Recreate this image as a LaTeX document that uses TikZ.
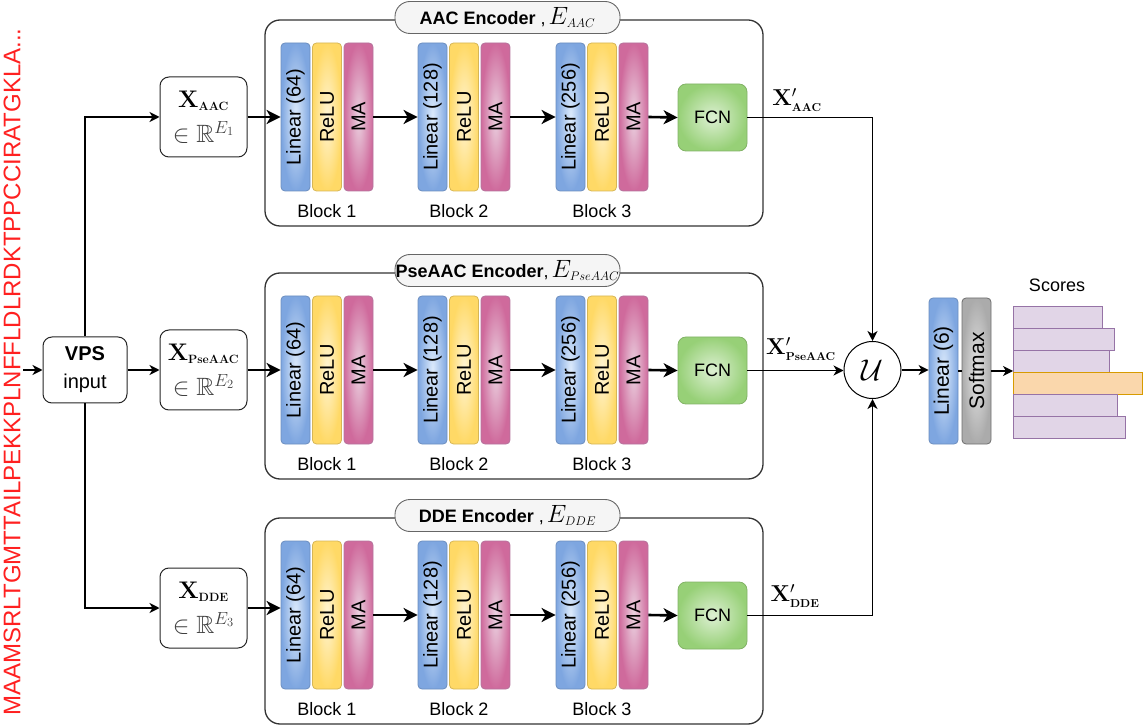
\RequirePackage{fix-cm}
\documentclass[tikz,border=0pt]{standalone}
\usepackage{amssymb}
\usepackage[no-math]{fontspec}
\setmainfont{Liberation Sans}
\usetikzlibrary{arrows.meta}
\definecolor{linO}{HTML}{7EA6E0}\definecolor{linI}{HTML}{DDEBFC}\definecolor{linB}{HTML}{6C8EBF}
\definecolor{relO}{HTML}{FFD966}\definecolor{relI}{HTML}{FFF5D6}\definecolor{relB}{HTML}{D6B656}
\definecolor{maO}{HTML}{CF6A9C}\definecolor{maI}{HTML}{EBD3E1}\definecolor{maB}{HTML}{B5739D}
\definecolor{fcnO}{HTML}{97D077}\definecolor{fcnI}{HTML}{DDF0D3}\definecolor{fcnB}{HTML}{82B366}
\definecolor{smO}{HTML}{ABABAB}\definecolor{smI}{HTML}{E4E4E4}\definecolor{smB}{HTML}{6E6E6E}
\definecolor{scF}{HTML}{E1D5E7}\definecolor{scB}{HTML}{9673A6}
\definecolor{orF}{HTML}{FAD7AC}\definecolor{orB}{HTML}{D79B00}
\definecolor{seqred}{HTML}{FF2020}
\definecolor{pillF}{HTML}{F5F5F5}\definecolor{pillB}{HTML}{666666}
\newcommand{\encmath}[1]{{\fontsize{25}{24}\selectfont$#1$}}
\tikzset{
  bar/.style={rotate=90, minimum width=148pt, minimum height=29pt, inner sep=0pt,
    rounded corners=4pt, line width=0.8pt, font=\fontsize{20}{22}\selectfont},
  lin/.style={bar, draw=linB, inner color=linI, outer color=linO},
  relu/.style={bar, draw=relB, inner color=relI, outer color=relO},
  ma/.style={bar, draw=maB, inner color=maI, outer color=maO},
  smx/.style={bar, draw=smB, inner color=smI, outer color=smO},
  fcnbox/.style={minimum width=69pt, minimum height=67pt, rounded corners=8pt, line width=0.8pt,
    draw=fcnB, inner color=fcnI, outer color=fcnO, font=\fontsize{18}{20}\selectfont},
  encbox/.style={draw=black!80, line width=1.3pt, rounded corners=15pt,
    minimum width=498pt, minimum height=206pt, inner sep=0pt},
  pill/.style={draw=pillB, fill=pillF, rounded corners=15pt, minimum width=225pt,
    minimum height=32pt, inner sep=0pt, line width=0.9pt, font=\fontsize{18}{20}\selectfont},
  blk/.style={font=\fontsize{18}{20}\selectfont},
  xbox/.style={draw=black!85, fill=white, rounded corners=9pt, minimum width=87pt, minimum height=80pt,
    inner sep=0pt, line width=1pt, align=center, font=\fontsize{24}{35}\selectfont},
  xlab/.style={font=\fontsize{23}{22}\selectfont, inner sep=0pt},
  sbar/.style={anchor=north west, minimum height=22pt, inner sep=0pt, line width=0.9pt, draw=scB, fill=scF},
  thk/.style={line width=2.6pt, -{Stealth[length=14pt,width=14pt,inset=4pt]}},
  thn/.style={line width=1.5pt, -{Stealth[length=10pt,width=10pt,inset=3pt]}},
  ln/.style={line width=1.5pt},
}
\begin{document}
\begin{tikzpicture}[x=1pt,y=-1pt]
\useasboundingbox (0,0) rectangle (1144,727);
% sequence
\node[rotate=90, text=seqred, font=\fontsize{24}{26}\selectfont, inner sep=0pt] (seq) at (12,372)
  {MAAMSRLTGMTTAILPEKKPLNFFLDLRDKTPPCCIRATGKLA...};
\coordinate (in0) at (23,370);
% input node
\node[draw=black!85, fill=white, rounded corners=9pt, minimum width=84pt, minimum height=66pt,
  inner sep=0pt, line width=1pt, align=center, font=\fontsize{20}{28}\selectfont] (vps) at (85,370)
  {\textbf{VPS}\\input};
\draw[thn] (in0) -- (vps.west);
% encoders
\foreach \rw/\T/\xy/\ttl/\sb/\ei/\lx/\ly in {
  A/20/117/{\textbf{AAC Encoder} ,\,\encmath{E_{\scriptscriptstyle AAC}}}/AAC/1/797/100,
  P/273/370/{\textbf{PseAAC Encoder},\,\encmath{E_{\scriptscriptstyle PseAAC}}}/PseAAC/2/801/349,
  D/518/608/{\textbf{DDE Encoder} ,\,\encmath{E_{\scriptscriptstyle DDE}}}/DDE/3/795/596}
{
  \node[encbox] (enc\rw) at (514,\T+103) {};
  \node[pill] (ttl\rw) at (507.5,\T-2.5) {\ttl};
  \node[lin]  (l\rw1) at (295.5,\T+97) {Linear (64)};
  \node[relu] (r\rw1) at (327,\T+97) {ReLU};
  \node[ma]   (m\rw1) at (358.5,\T+97) {MA};
  \node[lin]  (l\rw2) at (432.5,\T+97) {Linear (128)};
  \node[relu] (r\rw2) at (464,\T+97) {ReLU};
  \node[ma]   (m\rw2) at (495.5,\T+97) {MA};
  \node[lin]  (l\rw3) at (570.5,\T+97) {Linear (256)};
  \node[relu] (r\rw3) at (602,\T+97) {ReLU};
  \node[ma]   (m\rw3) at (633.5,\T+97) {MA};
  \node[blk] (b\rw1) at (327,\T+191) {Block 1};
  \node[blk] (b\rw2) at (459,\T+191) {Block 2};
  \node[blk] (b\rw3) at (602,\T+191) {Block 3};
  \node[fcnbox] (f\rw) at (712.5,\T+97.5) {FCN};
  \node[xbox] (x\rw) at (203.5,\xy)
    {$\mathbf{X}_{\scriptscriptstyle\mathbf{\sb}}$\\{\fontsize{25}{35}\selectfont\color{black!75}$\in\mathbb{R}^{E_\ei}$}};
  \node[xlab] (xp\rw) at (\lx,\ly) {$\mathbf{X}'_{\scriptscriptstyle\mathbf{\sb}}$};
  \draw[thk] (x\rw.east) -- (x\rw.east -| l\rw1.north);
  \draw[thk] (m\rw1.south) -- (l\rw2.north);
  \draw[thk] (m\rw2.south) -- (l\rw3.north);
  \draw[thk] (m\rw3.south) -- (f\rw.west);
}
% input connections
\draw[thn] (vps.north) |- (xA.west);
\draw[thn] (vps.east) -- (xP.west);
\draw[thn] (vps.south) |- (xD.west);
% fusion
\node[draw, circle, fill=white, minimum size=57pt, inner sep=0pt, line width=1pt,
  font=\fontsize{30}{32}\selectfont] (U) at (872.5,370) {$\mathcal{U}$};
\draw[thn] (fA.east) -| (U.north);
\draw[thn] (fP.east) -- (fP.east -| U.west);
\draw[thn] (fD.east) -| (U.south);
% head
\node[lin, minimum width=146pt, font=\fontsize{21}{22}\selectfont] (lin6) at (943.5,371) {Linear (6)};
\node[smx, minimum width=146pt, font=\fontsize{21}{22}\selectfont] (sm) at (976.5,371) {Softmax};
\draw[thn] (U.east) -- (U.east -| lin6.north);
\draw[ln] (lin6.south) -- (sm.north);
% scores
\node[font=\fontsize{18}{20}\selectfont] (sc) at (1057,285) {Scores};
\node[sbar, minimum width=89pt]  (s1) at (1013,306) {};
\node[sbar, minimum width=101pt] (s2) at (1013,328) {};
\node[sbar, minimum width=96pt]  (s3) at (1013,350) {};
\node[sbar, minimum width=129pt, draw=orB, fill=orF] (s4) at (1013,372) {};
\node[sbar, minimum width=104pt] (s5) at (1013,394) {};
\node[sbar, minimum width=112pt] (s6) at (1013,416) {};
\draw[thn] (sm.south) -- (sm.south -| s4.west);
\end{tikzpicture}
\end{document}
